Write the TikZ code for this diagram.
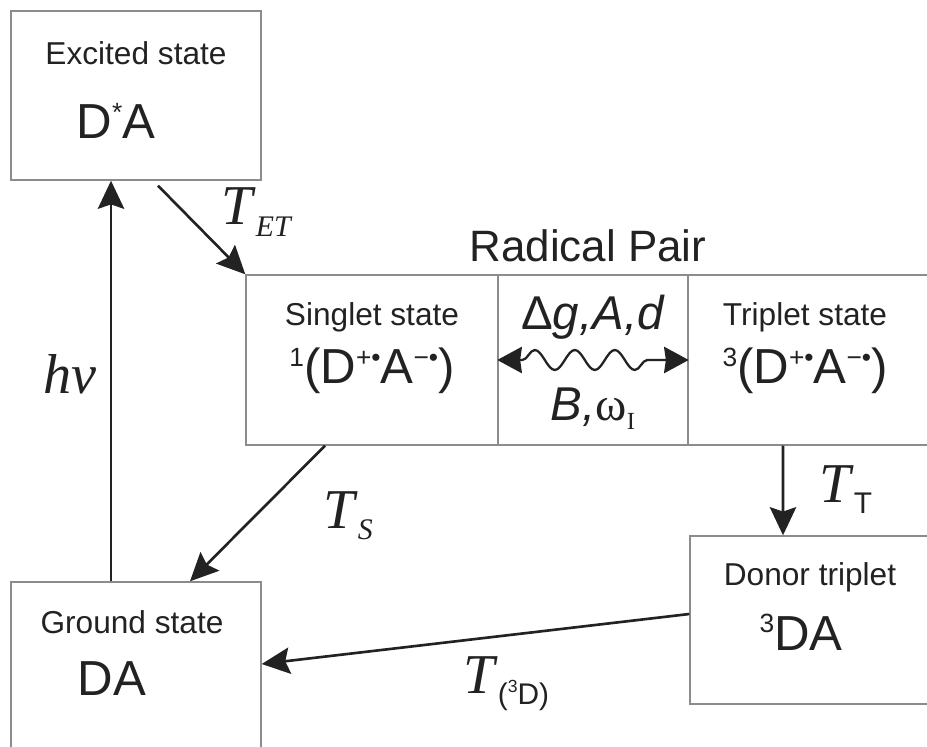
\documentclass[tikz,border=0pt]{standalone}
\usepackage{fontspec}
\setmainfont{Liberation Sans}
\newfontfamily\arial{Liberation Sans}
\newfontfamily\tnr{Liberation Serif}
\usetikzlibrary{arrows.meta,decorations.pathmorphing,calc}

\definecolor{boxgray}{HTML}{8C8C8C}
\definecolor{ink}{HTML}{222222}

% T avec indice, comme dans la figure
\newcommand{\rateT}[1]{\textit{T}\raisebox{-0.2em}{\fontsize{17}{17}\selectfont #1}}
% petit exposant des formules
\newcommand{\upsc}[1]{\raisebox{0.36em}{\fontsize{15}{15}\selectfont #1}}

\begin{document}
\begin{tikzpicture}[
    statebox/.style={draw=boxgray, line width=0.8pt, inner sep=0pt},
    boxtext/.style={anchor=base, text=ink, font=\fontsize{18}{18}\selectfont},
    bigtext/.style={anchor=base, text=ink, font=\fontsize{28}{28}\selectfont},
    ratefont/.style={anchor=base west, text=ink, font=\tnr\fontsize{32}{32}\selectfont},
    transfer/.style={draw=ink, line width=1.5pt, -{Stealth[length=16pt,width=15pt,inset=2.5pt]}}
]
    \useasboundingbox (0,0) rectangle (18.54,14.92);

    % Les boîtes des états
    \node[statebox, minimum width=5cm, minimum height=3.38cm] (excited) at (2.72,13.01) {};
    \node[statebox, minimum width=5cm, minimum height=3.56cm] (ground) at (2.72,1.50) {};
    \node[statebox, minimum width=5.04cm, minimum height=3.4cm] (singlet) at (7.44,7.72) {};
    \node[statebox, minimum width=3.8cm, minimum height=3.4cm] (mixing) at (11.86,7.72) {};
    \node[statebox, minimum width=5.24cm, minimum height=3.4cm] (triplet) at (16.38,7.72) {};
    \node[statebox, minimum width=5.2cm, minimum height=3.36cm] (donor) at (16.40,2.52) {};

    % Textes dans les boîtes
    \node[boxtext] (excitedname) at (2.72,13.62) {Excited state};
    \node[bigtext] (excitedform) at (2.32,12.14) {D\upsc{*}A};
    \node[boxtext] (groundname) at (2.64,2.26) {Ground state};
    \node[bigtext] (groundform) at (2.24,1.02) {DA};
    \node[boxtext] (singletname) at (7.44,8.40) {Singlet state};
    \node[bigtext] (singletform) at (7.44,7.24) {\upsc{1}(D\upsc{+•}A\upsc{−•})};
    \node[boxtext] (tripletname) at (16.10,8.40) {Triplet state};
    \node[bigtext] (tripletform) at (16.10,7.24) {\upsc{3}(D\upsc{+•}A\upsc{−•})};
    \node[boxtext] (donorname) at (16.20,3.22) {Donor triplet};
    \node[bigtext] (donorform) at (16.02,1.92) {\upsc{3}DA};
    \node[anchor=base, text=ink, font=\fontsize{25}{25}\selectfont] (pairtitle) at (11.76,9.68) {Radical Pair};

    % Conversion singulet-triplet
    \draw[draw=ink, line width=1.3pt, {Stealth[length=14pt,width=15pt,inset=1pt]}-{Stealth[length=14pt,width=15pt,inset=1pt]},
        decorate, decoration={snake, amplitude=0.2cm, segment length=0.8cm, pre length=0.5cm, post length=0.5cm}]
        (mixing.west) -- (mixing.east);
    \node[anchor=base, text=ink, font=\fontsize{27}{27}\selectfont] (mixtop) at (11.86,8.32) {Δ\textit{g,A,d}};
    \node[anchor=base, text=ink, font=\fontsize{27}{27}\selectfont] (mixbottom) at (11.86,6.52)
        {\textit{B,}{\tnr ω}\raisebox{-0.2em}{\tnr\fontsize{14}{14}\selectfont I}};

    % Flèches entre les états
    \draw[transfer] ($(ground.north)+(-0.5,0)$) -- ($(excited.south)+(-0.5,0)$);
    \draw[transfer] ($(excited.south)+(0.44,-0.1)$) -- (singlet.north west);
    \draw[transfer] ($(singlet.south)+(-0.94,0)$) -- ($(ground.north)+(1.08,0)$);
    \draw[transfer] ($(triplet.south)+(-0.72,0)$) -- ($(donor.north)+(-0.74,0)$);
    \draw[transfer] ($(donor.west)+(0,0.12)$) -- ($(ground.east)+(0,0.14)$);

    \node[ratefont, anchor=base east] (hnu) at (2.06,7.06) {\textit{hν}};
    \node[ratefont] (tet) at (4.30,10.42) {\rateT{\itshape ET}};
    \node[ratefont] (ts) at (6.34,4.36) {\rateT{\itshape S}};
    \node[ratefont] (tt) at (16.26,4.88) {\rateT{\arial T}};
    \node[ratefont] (td) at (9.14,1.06) {\rateT{\arial(\raisebox{0.4em}{\fontsize{10}{10}\selectfont 3}D)}};
\end{tikzpicture}
\end{document}
